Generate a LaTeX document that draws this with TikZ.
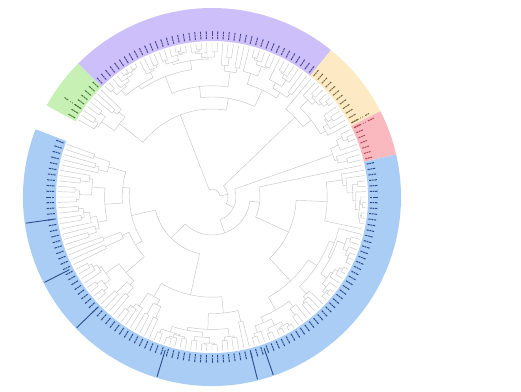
\documentclass[tikz,border=0pt]{standalone}
\definecolor{purp}{HTML}{CDBFF9}
\definecolor{blu}{HTML}{A9CDF4}
\definecolor{grn}{HTML}{C6F0B4}
\definecolor{yel}{HTML}{FDEAC4}
\definecolor{rd}{HTML}{FAB9BE}
\definecolor{navy}{HTML}{2B4C8C}
\definecolor{ink}{HTML}{4A4898}
\definecolor{olive}{HTML}{7A6A3A}
\definecolor{maroon}{HTML}{B04858}
\definecolor{moss}{HTML}{4A7A3A}
\tikzset{branch/.style={draw=gray!45, line width=0.45pt},
  lab/.style={line width=1pt, dash pattern=on 2.2pt off 0.7pt on 1.6pt off 0.7pt on 2.5pt},
  sepline/.style={draw=navy, line width=0.9pt}}
% one coloured piece of the label ring
\newcommand\sector[3]{\fill[#1] (#2:\Rin) arc[start angle=#2, end angle=#3, radius=\Rin]
  -- (#3:\Rout) arc[start angle=#3, end angle=#2, radius=\Rout] -- cycle;}
% clade of leaves #1..#2 joined at radius #3, its angle comes back in \cang
\newcommand\clade[3]{%
  \begingroup
  \ifnum#1=#2\relax
    \pgfmathsetmacro\cang{\tstart-\tstep*#1}%
  \else
    \pgfmathtruncatemacro\ci{#1+min(floor(rnd*(#2-#1)),#2-#1-1)}%
    \pgfmathtruncatemacro\cj{\ci+1}%
    \ifnum#1=\ci\relax \let\rL\Rleaf \else
      \pgfmathsetmacro\rL{#3+(\Rleaf-#3)*(0.1+0.35*rnd)}\fi
    \ifnum\cj=#2\relax \let\rR\Rleaf \else
      \pgfmathsetmacro\rR{#3+(\Rleaf-#3)*(0.1+0.35*rnd)}\fi
    \edef\cnext{\noexpand\clade{#1}{\ci}{\rL}}\cnext
    \let\aL\cang
    \edef\cnext{\noexpand\clade{\cj}{#2}{\rR}}\cnext
    \let\aR\cang
    \draw[branch] (\aL:#3) arc[start angle=\aL, end angle=\aR, radius=#3]
      (\aL:#3) -- (\aL:\rL) (\aR:#3) -- (\aR:\rR);
    \pgfmathsetmacro\cang{(\aL+\aR)/2}%
  \fi
  \xdef\cang{\cang}%
  \endgroup}
\begin{document}
\begin{tikzpicture}[x=1pt,y=1pt]
  \useasboundingbox (-212,-194) rectangle (309,197);
  \def\Rin{156}
  \def\Rout{189}
  \def\Rleaf{154}
  \def\tstart{150}
  \def\tstep{2}
  \pgfmathsetseed{11}
  % label ring
  \sector{grn}{151}{135}
  \sector{purp}{135}{51}
  \sector{yel}{51}{27}
  \sector{rd}{27}{13}
  \sector{blu}{13}{-201}
  % leaf labels
  \foreach \i in {0,...,7} \draw[lab,moss] ({150-2*\i}:158) -- ({150-2*\i}:166);
  \foreach \i in {8,...,49} \draw[lab,ink] ({150-2*\i}:158) -- ({150-2*\i}:167);
  \foreach \i in {50,...,61} \draw[lab,olive] ({150-2*\i}:158) -- ({150-2*\i}:166);
  \foreach \i in {62,...,68} \draw[lab,maroon] ({150-2*\i}:158) -- ({150-2*\i}:165);
  \foreach \i in {69,...,175} \draw[lab,navy] ({150-2*\i}:158) -- ({150-2*\i}:166);
  \draw[lab,moss] (146:158) -- (146:178);
  \draw[lab,olive] (28:158) -- (28:178);
  \draw[lab,maroon] (26:158) -- (26:180);
  \foreach \t in {188,207,224,253,284,289} \draw[sepline] (\t:160) -- (\t:188);
  % clades
  \clade{0}{7}{118}\let\aG\cang
  \clade{8}{49}{100}\let\aP\cang
  \draw[branch] (\aG:88) arc[start angle=\aG, end angle=\aP, radius=88]
    (\aG:88) -- (\aG:118) (\aP:88) -- (\aP:100);
  \pgfmathsetmacro\aPG{(\aG+\aP)/2}
  \clade{50}{61}{115}\let\aY\cang
  \clade{62}{68}{128}\let\aRd\cang
  \clade{69}{112}{48}\let\aBa\cang
  \clade{113}{175}{58}\let\aBb\cang
  \draw[branch] (\aBa:38) arc[start angle=\aBa, end angle=\aBb, radius=38]
    (\aBa:38) -- (\aBa:48) (\aBb:38) -- (\aBb:58);
  \pgfmathsetmacro\aB{(\aBa+\aBb)/2}
  \draw[branch] (\aRd:24) arc[start angle=\aRd, end angle=\aB, radius=24]
    (\aRd:24) -- (\aRd:128) (\aB:24) -- (\aB:38);
  \pgfmathsetmacro\aRB{(\aRd+\aB)/2}
  \draw[branch] (\aY:16) arc[start angle=\aY, end angle=\aRB, radius=16]
    (\aY:16) -- (\aY:115) (\aRB:16) -- (\aRB:24);
  \pgfmathsetmacro\aYRB{(\aY+\aRB)/2}
  \draw[branch] (\aPG:8) arc[start angle=\aPG, end angle=\aYRB, radius=8]
    (\aPG:8) -- (\aPG:88) (\aYRB:8) -- (\aYRB:16);
\end{tikzpicture}
\end{document}
